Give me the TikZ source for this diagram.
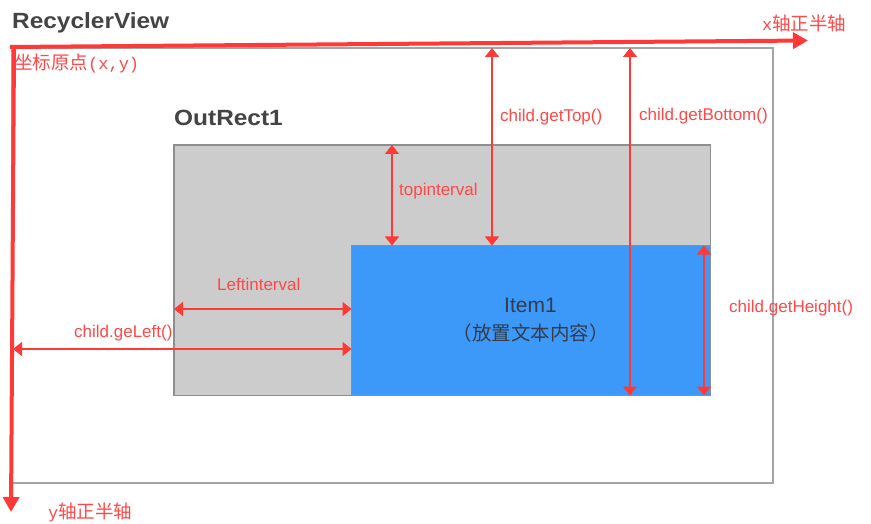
\documentclass[tikz,border=0pt]{standalone}
\usepackage{fontspec}
\setmainfont{Liberation Sans}
\newfontfamily\cjkfont{Noto Sans CJK SC}
\newfontfamily\asciimono{Liberation Mono}
\newfontfamily\titlefont[FakeStretch=1.11]{Liberation Sans}
\usetikzlibrary{arrows.meta}
\definecolor{axisred}{HTML}{FF3838}
\definecolor{lblred}{HTML}{FF4848}
\definecolor{boxgray}{HTML}{CCCCCC}
\definecolor{edgegray}{HTML}{8E8E8E}
\definecolor{itemblue}{HTML}{3C98F9}
\definecolor{titlegray}{HTML}{444444}
\definecolor{itemtext}{HTML}{333C48}
\begin{document}
\begin{tikzpicture}[x=1pt,y=-1pt,
  box/.style={draw=edgegray, line width=1.2pt, inner sep=0, outer sep=0, anchor=north west},
  axisline/.style={draw=axisred, line width=4pt, -{Triangle[length=15pt,width=16pt]}},
  dimline/.style={draw=axisred, line width=1.4pt, {Triangle[length=9pt,width=14pt]}-{Triangle[length=9pt,width=14pt]}},
  lbl/.style={text=lblred, font=\fontsize{17}{18}\selectfont, inner sep=0, anchor=base west},
  titletext/.style={text=titlegray, font=\titlefont\bfseries\fontsize{22}{24}\selectfont, inner sep=0, anchor=base west},
  cjk/.style={text=lblred, font=\cjkfont\fontsize{18.5}{20}\selectfont, inner sep=0},
]
\useasboundingbox (0,0) rectangle (871,524);

% boxes
\node[box, draw=edgegray!80, fill=white, minimum width=761pt, minimum height=435pt] (rv) at (12,48) {};
\node[box, fill=boxgray, minimum width=536.5pt, minimum height=250.5pt] (outrect) at (174,145) {};
\node[box, fill=itemblue, minimum width=359pt, minimum height=150pt] (item) at (351.5,245.5) {};

% titles
\node[titletext] (rvtitle) at (12,29) {RecyclerView};
\node[titletext] (ortitle) at (174,126) {OutRect1};

% item text
\node[text=itemtext, font=\fontsize{21}{23}\selectfont, inner sep=0, anchor=base] (itemname) at (530.5,312) {Item1};
\node[cjk, text=itemtext, font=\cjkfont\fontsize{19.5}{21}\selectfont] (itemdesc) at (530.5,333) {（放置文本内容）};

% axes
\coordinate (xstart) at (10,47);
\coordinate (xend) at (808,40.5);
\coordinate (ystart) at (14,49);
\coordinate (yend) at (11,512);
\draw[axisline] (xstart) -- (xend);
\draw[axisline] (ystart) -- (yend);

% dimension coordinates
\coordinate (ti1) at (392,145);
\coordinate (ti2) at (392,245.5);
\coordinate (gt1) at (492,48);
\coordinate (gt2) at (492,245.5);
\coordinate (gb1) at (630,48);
\coordinate (gb2) at (630,395.5);
\coordinate (gh1) at (704,245.5);
\coordinate (gh2) at (704,395.5);
\coordinate (li1) at (174,309);
\coordinate (li2) at (351.5,309);
\coordinate (gl1) at (13,349);
\coordinate (gl2) at (351.5,349);

\draw[dimline] (ti1) -- (ti2);
\draw[dimline] (gt1) -- (gt2);
\draw[dimline] (gb1) -- (gb2);
\draw[dimline] (gh1) -- (gh2);
\draw[dimline] (li1) -- (li2);
\draw[dimline] (gl1) -- (gl2);

% labels
\node[lbl] (lti) at (399,196) {topinterval};
\node[lbl] (lgt) at (500,121.5) {child.getTop()};
\node[lbl] (lgb) at (639,120.5) {child.getBottom()};
\node[lbl] (lgh) at (729,312) {child.getHeight()};
\node[lbl] (lli) at (217,290) {Leftinterval};
\node[lbl] (lgl) at (74,337.5) {child.geLeft()};

% axis captions
\node[cjk, anchor=west] (origin) at (14,63) {坐标原点{\asciimono\fontsize{17}{18}\selectfont(x,y)}};
\node[cjk, anchor=west] (xcap) at (762,23) {{\asciimono\fontsize{17}{18}\selectfont x}轴正半轴};
\node[cjk, anchor=west] (ycap) at (48,512) {{\asciimono\fontsize{17}{18}\selectfont y}轴正半轴};
\end{tikzpicture}
\end{document}
